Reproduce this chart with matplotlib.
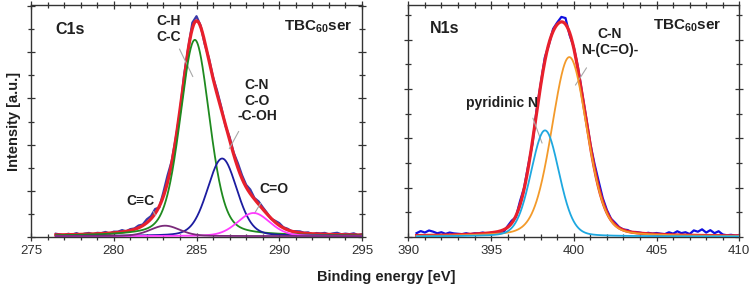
import numpy as np
import matplotlib
matplotlib.use("Agg")
import matplotlib.pyplot as plt
from matplotlib.ticker import MultipleLocator

plt.rcParams['font.family'] = ['Liberation Sans', 'DejaVu Sans']
plt.rcParams['mathtext.fontset'] = 'custom'
plt.rcParams['mathtext.rm'] = 'Liberation Sans'
plt.rcParams['mathtext.bf'] = 'Liberation Sans:bold'

# ---------------- data ----------------
# C1s fit components: centre [eV], amplitude, FWHM [eV], Lorentzian fraction
c1s_names = ["C-H\nC-C", "C-N\nC-O\n-C-OH", "C=O", "C\u2261C"]
c1s_centers = [284.9, 286.55, 288.45, 283.1]
c1s_heights = [8.5, 3.36, 1.0, 0.45]
c1s_fwhm = [2.1, 2.1, 2.3, 2.1]
c1s_lfrac = [0.3, 0.2, 0.2, 0.2]
c1s_colors = ["#1f8a1f", "#1c1ca0", "#ff3cff", "#7a2a7a"]
c1s_background = 0.04
c1s_x_start, c1s_x_end = 276.5, 295.0
c1s_residuals = [0.05, 0.02, -0.03, 0.04, 0.0, 0.06, -0.02, 0.03, 0.05, -0.01,
                 0.04, 0.02, 0.06, -0.02, 0.05, 0.03, 0.08, 0.0, 0.06, 0.04,
                 0.1, 0.05, 0.15, 0.12, 0.2, -0.05, 0.18, 0.3, 0.1, 0.05,
                 -0.1, 0.15, 0.05, 0.25, 0.2, 0.05, -0.1, 0.1, 0.05, 0.15,
                 0.1, -0.05, 0.12, 0.08, 0.2, 0.15, 0.1, 0.18, 0.05, 0.12,
                 0.08, 0.05, -0.02, 0.06, 0.1, 0.03, 0.05, 0.0, 0.04, 0.06,
                 0.02, 0.05, -0.02, 0.04, 0.03, 0.06, 0.0, 0.05, 0.08, 0.02,
                 0.05, 0.03, 0.07, 0.0, 0.04]

# N1s fit components
n1s_names = ["C-N\nN-(C=O)-", "pyridinic N"]
n1s_centers = [399.73, 398.26]
n1s_heights = [7.27, 4.3]
n1s_fwhm = [2.5, 2.0]
n1s_lfrac = [0.2, 0.15]
n1s_colors = ["#f39a2a", "#1ea8e0"]
n1s_background = 0.02
n1s_x_start, n1s_x_end = 390.5, 410.0
n1s_residuals = [0.1, 0.18, 0.12, 0.2, 0.15, 0.08, 0.12, 0.05, 0.1, 0.06,
                 0.04, 0.02, 0.05, 0.0, 0.03, 0.02, 0.04, -0.02, 0.0, -0.05,
                 -0.08, -0.1, 0.05, 0.1, -0.05, 0.15, 0.05, 0.1, -0.1, 0.12,
                 0.05, 0.15, -0.05, 0.1, 0.08, 0.2, 0.25, -0.1, 0.05, 0.1,
                 0.08, 0.12, 0.1, 0.2, 0.25, 0.15, 0.1, 0.05, 0.08, 0.03,
                 0.02, 0.05, 0.0, 0.03, 0.02, 0.0, 0.04, 0.02, 0.05, 0.03,
                 0.02, 0.1, 0.05, 0.15, 0.08, 0.12, 0.05, 0.2, 0.15, 0.25,
                 0.12, 0.22, 0.1, 0.18, 0.05, 0.02, 0.04, 0.01, 0.02]

# ---------------- helpers ----------------
def pvoigt(x, c, h, w, m):
    u = (x - c) / w
    g = np.exp(-4 * np.log(2) * u ** 2)
    lo = 1.0 / (1.0 + 4 * u ** 2)
    return h * ((1 - m) * g + m * lo)

fig = plt.figure(figsize=(7.54, 2.91), dpi=100)
axL = fig.add_axes([31 / 754, 1 - 237 / 291, 331 / 754, 232 / 291])
axR = fig.add_axes([408.3 / 754, 1 - 237 / 291, 331 / 754, 232 / 291])

spine_col = "#333333"

def style(ax, xlim, ylim, ymajor):
    ax.set_xlim(*xlim)
    ax.set_ylim(*ylim)
    ax.xaxis.set_major_locator(MultipleLocator(5))
    ax.xaxis.set_minor_locator(MultipleLocator(1))
    ax.yaxis.set_major_locator(MultipleLocator(ymajor))
    ax.yaxis.set_minor_locator(MultipleLocator(ymajor / 2))
    ax.tick_params(which="both", direction="inout", top=True, right=True,
                   color=spine_col, width=0.9)
    ax.tick_params(which="major", length=6)
    ax.tick_params(which="minor", length=4)
    ax.tick_params(axis="x", labelsize=9.5, labelcolor="#303030", pad=3)
    ax.tick_params(axis="y", labelleft=False)
    for sp in ax.spines.values():
        sp.set_color(spine_col)
        sp.set_linewidth(1.0)

def panel(ax, centers, heights, fwhm, lfrac, colors, bg, xs, xe, res, data_col):
    params = list(zip(centers, heights, fwhm, lfrac))
    xf = np.linspace(xs, xe, 800)
    comps = [pvoigt(xf, *p) for p in params]
    env = bg + np.sum(comps, axis=0)
    xd = np.linspace(xs, xe, len(res))
    envd = bg + np.sum([pvoigt(xd, *p) for p in params], axis=0)
    ax.plot(xd, envd + np.array(res), color=data_col, lw=1.6, zorder=2)
    ax.plot(xf, env, color="#e8202c", lw=2.3, zorder=3)
    for comp, col in zip(comps, colors):
        ax.plot(xf, comp + bg, color=col, lw=1.3, zorder=4)

panel(axL, c1s_centers, c1s_heights, c1s_fwhm, c1s_lfrac, c1s_colors, c1s_background,
      c1s_x_start, c1s_x_end, c1s_residuals, "#3a3aa8")
panel(axR, n1s_centers, n1s_heights, n1s_fwhm, n1s_lfrac, n1s_colors, n1s_background,
      n1s_x_start, n1s_x_end, n1s_residuals, "#1010e0")

style(axL, (275, 295), (0, 10.05), 2)
style(axR, (390, 410), (0, 9.4), 2)

tk = dict(fontsize=10, fontweight="bold", color="#202020")
lead = dict(arrowstyle="-", color="#a8a8a8", lw=0.8)
tbc = "TBC$_{\\mathbf{60}}$ser"

# left panel labels
axL.text(276.45, 9.0, "C1s", ha="left", va="center", fontsize=11.5, fontweight="bold", color="#202020")
axL.text(294.4, 9.1, tbc, ha="right", va="center", fontsize=11, fontweight="bold", color="#202020")
axL.text(283.3, 9.0, c1s_names[0], ha="center", va="center", linespacing=1.15, **tk)
axL.annotate("", xy=(284.85, 6.84), xytext=(283.9, 8.25), arrowprops=lead)
axL.text(288.65, 5.9, c1s_names[1], ha="center", va="center", linespacing=1.15, **tk)
axL.annotate("", xy=(286.9, 3.72), xytext=(287.63, 4.68), arrowprops=lead)
axL.text(289.68, 2.08, c1s_names[2], ha="center", va="center", **tk)
axL.annotate("", xy=(288.41, 0.91), xytext=(288.96, 1.56), arrowprops=lead)
axL.text(281.59, 1.56, c1s_names[3], ha="center", va="center", **tk)
axL.annotate("", xy=(282.61, 0.82), xytext=(282.31, 1.21), arrowprops=lead)

# right panel labels
axR.text(391.31, 8.46, "N1s", ha="left", va="center", fontsize=11.5, fontweight="bold", color="#202020")
axR.text(408.95, 8.58, tbc, ha="right", va="center", fontsize=11, fontweight="bold", color="#202020")
axR.text(402.19, 7.9, n1s_names[0], ha="center", va="center", linespacing=1.15, **tk)
axR.annotate("", xy=(400.01, 6.06), xytext=(400.86, 6.95), arrowprops=lead)
axR.text(395.66, 5.41, n1s_names[1], ha="center", va="center", **tk)
axR.annotate("", xy=(398.14, 3.70), xytext=(397.47, 4.92), arrowprops=lead)

fig.text(14 / 754, 1 - 121 / 291, "Intensity [a.u.]", rotation=90, ha="center", va="center",
         fontsize=10.5, fontweight="bold", color="#202020")
fig.text(386 / 754, 1 - 277 / 291, "Binding energy [eV]", ha="center", va="center",
         fontsize=10.5, fontweight="bold", color="#202020")

fig.savefig("out.png", dpi=100)
